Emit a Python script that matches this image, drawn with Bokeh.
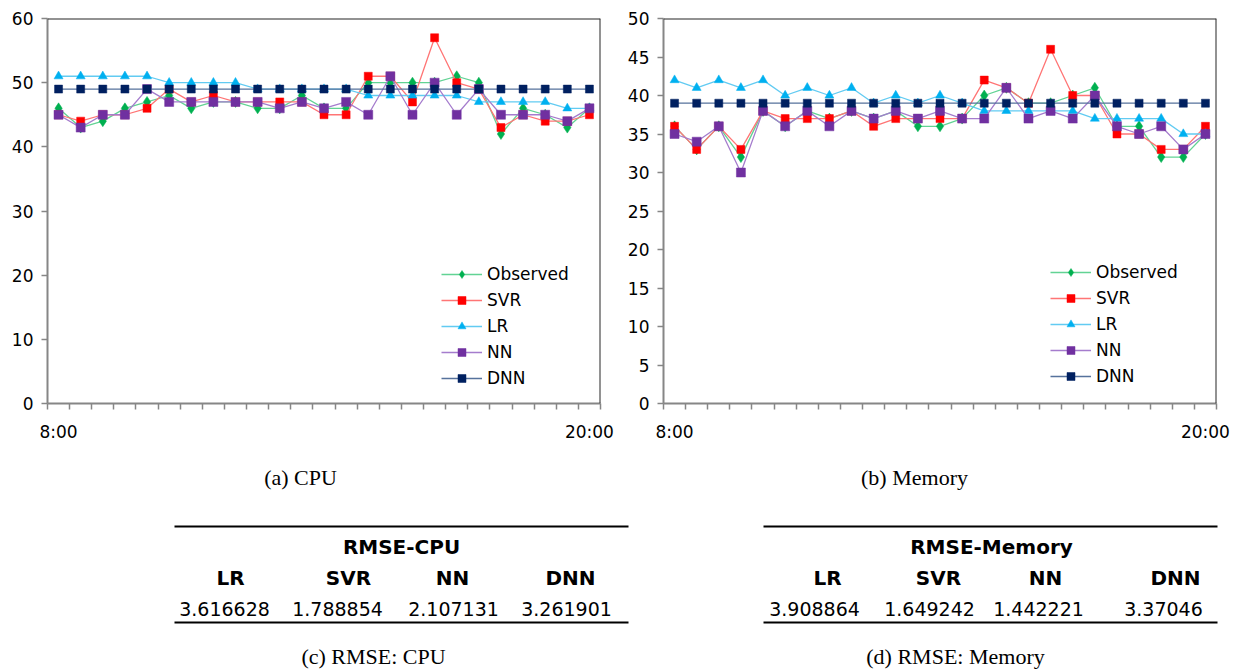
from bokeh.plotting import figure
from bokeh.models import Range1d, FixedTicker, Legend, LegendItem, Span
from bokeh.layouts import column, row
from bokeh.embed import file_html
from bokeh.resources import INLINE
from bokeh.core.properties import value

# ---------------- data ----------------
times = ["8:00", "8:30", "9:00", "9:30", "10:00", "10:30", "11:00", "11:30", "12:00",
         "12:30", "13:00", "13:30", "14:00", "14:30", "15:00", "15:30", "16:00", "16:30",
         "17:00", "17:30", "18:00", "18:30", "19:00", "19:30", "20:00"]
shown_time_labels = ["8:00", "20:00"]
series_names = ["Observed", "SVR", "LR", "NN", "DNN"]

cpu_observed = [46, 43, 44, 46, 47, 48, 46, 47, 47, 46, 46, 48, 46, 46, 50, 50, 50, 50, 51, 50, 42, 46, 45, 43, 46]
cpu_svr = [45, 44, 45, 45, 46, 49, 47, 48, 47, 47, 47, 47, 45, 45, 51, 51, 47, 57, 50, 49, 43, 45, 44, 44, 45]
cpu_lr = [51, 51, 51, 51, 51, 50, 50, 50, 50, 49, 49, 49, 49, 49, 48, 48, 48, 48, 48, 47, 47, 47, 47, 46, 46]
cpu_nn = [45, 43, 45, 45, 49, 47, 47, 47, 47, 47, 46, 47, 46, 47, 45, 51, 45, 50, 45, 49, 45, 45, 45, 44, 46]
cpu_dnn = [49, 49, 49, 49, 49, 49, 49, 49, 49, 49, 49, 49, 49, 49, 49, 49, 49, 49, 49, 49, 49, 49, 49, 49, 49]

mem_observed = [36, 33, 36, 32, 38, 36, 38, 37, 38, 37, 38, 36, 36, 37, 40, 41, 39, 39, 40, 41, 36, 36, 32, 32, 35]
mem_svr = [36, 33, 36, 33, 38, 37, 37, 37, 38, 36, 37, 37, 37, 37, 42, 41, 39, 46, 40, 40, 35, 35, 33, 33, 36]
mem_lr = [42, 41, 42, 41, 42, 40, 41, 40, 41, 39, 40, 39, 40, 39, 38, 38, 38, 38, 38, 37, 37, 37, 37, 35, 35]
mem_nn = [35, 34, 36, 30, 38, 36, 38, 36, 38, 37, 38, 37, 38, 37, 37, 41, 37, 38, 37, 40, 36, 35, 36, 33, 35]
mem_dnn = [39, 39, 39, 39, 39, 39, 39, 39, 39, 39, 39, 39, 39, 39, 39, 39, 39, 39, 39, 39, 39, 39, 39, 39, 39]

cpu_ticks = [0, 10, 20, 30, 40, 50, 60]
mem_ticks = [0, 5, 10, 15, 20, 25, 30, 35, 40, 45, 50]

chart_captions = ["(a) CPU", "(b) Memory"]
table_titles = ["RMSE-CPU", "RMSE-Memory"]
table_models = ["LR", "SVR", "NN", "DNN"]
rmse_cpu = [3.616628, 1.788854, 2.107131, 3.261901]
rmse_mem = [3.908864, 1.649242, 1.442221, 3.37046]
table_captions = ["(c) RMSE: CPU", "(d) RMSE: Memory"]

# ---------------- styles ----------------
marker_colors = ["#00B050", "#FF0000", "#00B0F0", "#7030A0", "#002060"]
line_colors = ["#62d394", "#ff7575", "#62cbf2", "#a57ccd", "#56729c"]
markers = ["diamond", "square", "triangle", "square", "square"]
marker_sizes = [11, 8, 9, 9, 8]
FONT = "DejaVu Sans"
SERIF = "Liberation Serif"
AXIS_GRAY = "#868686"


def make_chart(series, ymax, yticks, left, width, legend_xy):
    p = figure(width=width, height=450, output_backend="svg", toolbar_location=None,
               x_range=Range1d(-0.5, len(times) - 0.5), y_range=Range1d(0, ymax),
               min_border_left=left, min_border_right=width - left - 553,
               min_border_top=18, min_border_bottom=47)
    p.xgrid.visible = False
    p.ygrid.visible = False
    p.outline_line_color = None
    p.background_fill_color = "white"
    p.border_fill_color = "white"

    xs = list(range(len(times)))
    items = []
    for i, (name, ys) in enumerate(zip(series_names, series)):
        ln = p.line(xs, ys, line_color=line_colors[i], line_width=1.3)
        sc = p.scatter(xs, ys, marker=markers[i], size=marker_sizes[i],
                       fill_color=marker_colors[i], line_color=marker_colors[i], line_width=0.5)
        items.append(LegendItem(label=name, renderers=[ln, sc]))

    leg = Legend(items=items, location=legend_xy, background_fill_alpha=0,
                 border_line_alpha=0, padding=0, margin=0, spacing=6,
                 glyph_width=41, glyph_height=20, label_height=20, label_standoff=5,
                 label_text_font=FONT, label_text_font_size="17px", label_text_color="#000000")
    p.add_layout(leg)

    # x axis: category boundaries as ticks, only first/last labelled
    label_idx = [times.index(t) for t in shown_time_labels]
    p.xaxis.ticker = FixedTicker(ticks=label_idx,
                                 minor_ticks=[k - 0.5 for k in range(len(times) + 1)])
    p.xaxis.major_label_overrides = {k: times[k] for k in label_idx}
    p.xaxis.major_tick_out = 0
    p.xaxis.major_tick_in = 0
    p.xaxis.minor_tick_out = 6
    p.xaxis.minor_tick_in = 0
    p.xaxis.minor_tick_line_color = AXIS_GRAY
    p.xaxis.minor_tick_line_width = 1.5
    p.xaxis.major_label_standoff = 12

    p.yaxis.ticker = FixedTicker(ticks=yticks)
    p.yaxis.major_tick_out = 6
    p.yaxis.major_tick_in = 0
    p.yaxis.minor_tick_out = 0
    p.yaxis.minor_tick_in = 0
    p.yaxis.major_tick_line_color = AXIS_GRAY
    p.yaxis.major_tick_line_width = 1.5
    p.yaxis.major_label_standoff = 8

    for ax in (p.xaxis[0], p.yaxis[0]):
        ax.axis_line_color = AXIS_GRAY
        ax.axis_line_width = 2
        ax.major_label_text_font = FONT
        ax.major_label_text_font_size = "17px"
        ax.major_label_text_color = "#000000"

    p.add_layout(Span(location=ymax, dimension="width", line_color="#262626", line_width=2))
    p.add_layout(Span(location=len(times) - 0.5, dimension="height", line_color="#262626", line_width=2))
    return p


p_cpu = make_chart([cpu_observed, cpu_svr, cpu_lr, cpu_nn, cpu_dnn], 60, cpu_ticks, 47, 620, (394, 15))
p_mem = make_chart([mem_observed, mem_svr, mem_lr, mem_nn, mem_dnn], 50, mem_ticks, 43, 621, (387, 17))

# ---------------- captions and tables ----------------
t = figure(width=1241, height=219, output_backend="svg", toolbar_location=None,
           x_range=Range1d(0, 1241), y_range=Range1d(669, 450),
           x_axis_location=None, y_axis_location=None, min_border=0)
t.xgrid.visible = False
t.ygrid.visible = False
t.outline_line_color = None

t.text(x=[300, 914], y=[477, 477], text=chart_captions, text_align="center", text_baseline="middle",
       text_font=value(SERIF), text_font_size="22px", text_color="#000000")

tables = [
    dict(rmse=rmse_cpu, x0=174, x1=628, tx=401, cx=373, hx=[230, 348, 452, 570], vx=[224, 337, 453, 566]),
    dict(rmse=rmse_mem, x0=763, x1=1217, tx=991, cx=955, hx=[827, 938, 1045, 1175], vx=[814, 929, 1038, 1163]),
]
for k, tb in enumerate(tables):
    t.segment(x0=[tb["x0"], tb["x0"]], y0=[526, 622], x1=[tb["x1"], tb["x1"]], y1=[526, 622],
              line_color="#000000", line_width=2)
    t.text(x=[tb["tx"]], y=[546], text=[table_titles[k]], text_align="center", text_baseline="middle",
           text_font=value(FONT), text_font_style="bold", text_font_size="20px", text_color="#000000")
    t.text(x=tb["hx"], y=[577] * 4, text=table_models, text_align="center", text_baseline="middle",
           text_font=value(FONT), text_font_style="bold", text_font_size="20px", text_color="#000000")
    t.text(x=tb["vx"], y=[608] * 4, text=[str(v) for v in tb["rmse"]], text_align="center",
           text_baseline="middle", text_font=value(FONT), text_font_size="19px", text_color="#000000")
    t.text(x=[tb["cx"]], y=[656], text=[table_captions[k]], text_align="center", text_baseline="middle",
           text_font=value(SERIF), text_font_size="22px", text_color="#000000")

layout = column(row(p_cpu, p_mem), t)
open("out.html", "w").write(file_html(layout, INLINE))
